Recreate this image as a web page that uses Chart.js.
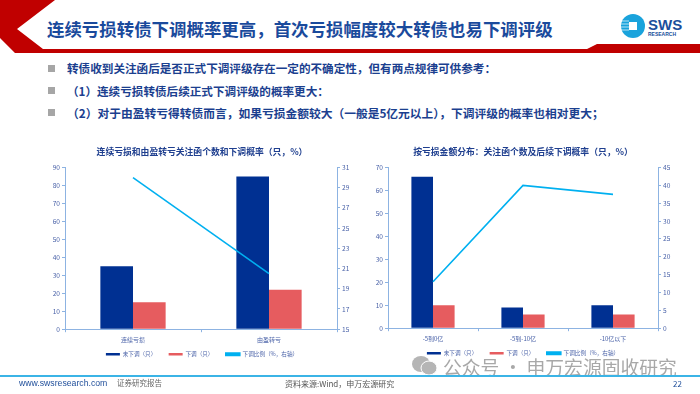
<!DOCTYPE html>
<html>
<head>
<meta charset="utf-8">
<script src="https://cdn.jsdelivr.net/npm/chart.js@4"></script>
<style>
  html, body { margin: 0; padding: 0; background: #fff; }
  body { position: relative; width: 700px; height: 394px; overflow: hidden; font-family: 'Noto Sans CJK SC', sans-serif; }
  .abs { position: absolute; white-space: nowrap; }
  canvas { position: absolute; }
  .bullet { position: absolute; left: 48px; width: 7px; height: 7px; background: #a6a6a6; }
  .point { position: absolute; white-space: nowrap; font-size: 11.6px; font-weight: 700; color: #1b3f8f; line-height: 16px; }
</style>
</head>
<body>
<!-- header shape -->
<svg class="abs" style="left:0;top:0" width="700" height="60">
  <polygon points="0,0 55,0 17,29 43,49 587,49 597,44 700,44 700,53 15,53 0,38" fill="#c00000"/>
</svg>
<div class="abs" style="left:47px;top:16px;font-size:17.45px;line-height:26px;font-weight:700;color:#1a4a9c">连续亏损转债下调概率更高，首次亏损幅度较大转债也易下调评级</div>

<!-- logo -->
<svg class="abs" style="left:620px;top:12px" width="70" height="30">
  <circle cx="13" cy="14" r="12" fill="#1aa3dc"/>
  <path d="M1 9h8M1 12h8M1 15h8M1 18h8" stroke="#fff" stroke-width="0.7"/>
  <rect x="9" y="10" width="8" height="8" fill="#fff"/>
  <text x="28" y="18" font-family="Liberation Sans" font-weight="700" font-size="15" fill="#1b4f9c">SWS</text>
  <text x="28" y="24" font-family="Liberation Sans" font-weight="700" font-size="5" fill="#1b4f9c">RESEARCH</text>
</svg>

<div class="bullet" style="top:65px"></div>
<div class="bullet" style="top:87px"></div>
<div class="bullet" style="top:109px"></div>
<div class="point" style="left:67px;top:60px">转债收到关注函后是否正式下调评级存在一定的不确定性，但有两点规律可供参考：</div>
<div class="point" style="left:67px;top:83px">（1）连续亏损转债后续正式下调评级的概率更大：</div>
<div class="point" style="left:67px;top:105px;font-size:11.75px">（2）对于由盈转亏得转债而言，如果亏损金额较大（一般是5亿元以上），下调评级的概率也相对更大；</div>

<canvas id="chartStreak" width="320" height="227" style="left:42px;top:140px"></canvas>
<canvas id="chartAmount" width="302" height="226" style="left:372px;top:140px"></canvas>

<!-- watermark -->
<svg class="abs" style="left:411px;top:354px" width="30" height="24">
  <ellipse cx="10" cy="10" rx="9" ry="8" fill="#b5b5b5"/>
  <ellipse cx="18" cy="14" rx="8" ry="7" fill="#b5b5b5" stroke="#fff"/>
</svg>
<div class="abs" style="left:443px;top:354px;font-size:18.8px;line-height:26px;color:#a8a8a8">公众号 · 申万宏源固收研究</div>

<!-- footer -->
<div class="abs" style="left:0;top:375px;width:700px;height:2px;background:#3bb4e6"></div>
<div class="abs" style="left:19px;top:377px;font-size:8.7px;line-height:13px;color:#1f4e9a;font-family:'Liberation Sans'">www.swsresearch.com</div>
<div class="abs" style="left:117px;top:377px;font-size:7.5px;line-height:12px;color:#666">证券研究报告</div>
<div class="abs" style="left:285px;top:378px;font-size:8px;line-height:12px;color:#555">资料来源:Wind，申万宏源研究</div>
<div class="abs" style="left:673px;top:378px;font-size:8px;line-height:12px;color:#1f4e9a">22</div>

<script>
// ===== DATA =====
const STREAK_TITLE = '连续亏损和由盈转亏关注函个数和下调概率（只，%）';
const STREAK_CATS = ['连续亏损', '由盈转亏'];
const STREAK_NOT_DOWN = [35, 85];
const STREAK_DOWN = [15, 22];
const STREAK_RATE = [30, 20.5];

const AMOUNT_TITLE = '按亏损金额分布：关注函个数及后续下调概率（只，%）';
const AMOUNT_CATS = ['-5到0亿', '-5到-10亿', '-10亿以下'];
const AMOUNT_NOT_DOWN = [66, 9, 10];
const AMOUNT_DOWN = [10, 6, 6];
const AMOUNT_RATE = [13, 40, 37.5];

const SERIES_NAMES = ['未下调（只）', '下调（只）', '下调比例（%，右轴）'];

// ===== STYLE =====
const NAVY = '#003092';
const RED = '#E65C5F';
const CYAN = '#00B0F0';
const AXIS = '#8DB3E2';
const TICK_TEXT = '#4A62A8';
const FONT = "'Noto Sans CJK SC', sans-serif";

Chart.defaults.font.family = FONT;
Chart.defaults.animation = false;

function fixWidth(w) {
  return scale => { scale.width = w; };
}

// legend padding also sets its height, so the gap between items comes from a trailing space
function legendLabels(chart) {
  const items = Chart.defaults.plugins.legend.labels.generateLabels(chart);
  items.sort((a, b) => a.datasetIndex - b.datasetIndex);
  items.forEach((item, i) => { if (i < items.length - 1) item.text += '\u3000\u3000'; });
  return items;
}

function makeChart(id, opts) {
  const axisBase = {
    border: { color: AXIS },
    grid: { drawOnChartArea: false, color: AXIS, tickLength: 3 },
    ticks: { color: TICK_TEXT, font: { size: 6.6 }, padding: 2 }
  };
  return new Chart(document.getElementById(id), {
    type: 'bar',
    data: {
      labels: opts.cats,
      datasets: [
        { label: SERIES_NAMES[0], data: opts.notDown, backgroundColor: NAVY, yAxisID: 'y', order: 2 },
        { label: SERIES_NAMES[1], data: opts.down, backgroundColor: RED, yAxisID: 'y', order: 2 },
        { label: SERIES_NAMES[2], type: 'line', data: opts.rate, borderColor: CYAN, backgroundColor: CYAN,
          borderWidth: 1.6, pointRadius: 0, tension: 0, yAxisID: 'y1', order: 1 }
      ]
    },
    options: {
      responsive: false,
      barPercentage: 1,
      categoryPercentage: 0.48,
      layout: { padding: 0 },
      plugins: {
        title: {
          display: true, text: opts.title, color: '#1F3F8F',
          font: { size: 8.8, weight: 'bold' }, padding: { top: 6, bottom: 11 }
        },
        legend: {
          position: 'bottom',
          labels: {
            color: TICK_TEXT, font: { size: 5.6 }, boxWidth: 14, boxHeight: 2.5, padding: 4,
            generateLabels: legendLabels
          }
        },
        tooltip: { enabled: false }
      },
      scales: {
        x: { ...axisBase, ticks: { ...axisBase.ticks, font: { size: 6 }, padding: 4 } },
        y: {
          ...axisBase, position: 'left', min: 0, max: opts.leftMax,
          ticks: { ...axisBase.ticks, stepSize: 10 },
          afterFit: fixWidth(opts.leftWidth)
        },
        y1: {
          ...axisBase, position: 'right', min: opts.rightMin, max: opts.rightMax,
          ticks: { ...axisBase.ticks, stepSize: opts.rightStep },
          afterFit: fixWidth(opts.rightWidth)
        }
      }
    }
  });
}

makeChart('chartStreak', {
  title: STREAK_TITLE, cats: STREAK_CATS, notDown: STREAK_NOT_DOWN, down: STREAK_DOWN, rate: STREAK_RATE,
  leftMax: 90, rightMin: 15, rightMax: 31, rightStep: 2, leftWidth: 23, rightWidth: 25
});
makeChart('chartAmount', {
  title: AMOUNT_TITLE, cats: AMOUNT_CATS, notDown: AMOUNT_NOT_DOWN, down: AMOUNT_DOWN, rate: AMOUNT_RATE,
  leftMax: 70, rightMin: 0, rightMax: 45, rightStep: 5, leftWidth: 16, rightWidth: 16
});
</script>
</body>
</html>
